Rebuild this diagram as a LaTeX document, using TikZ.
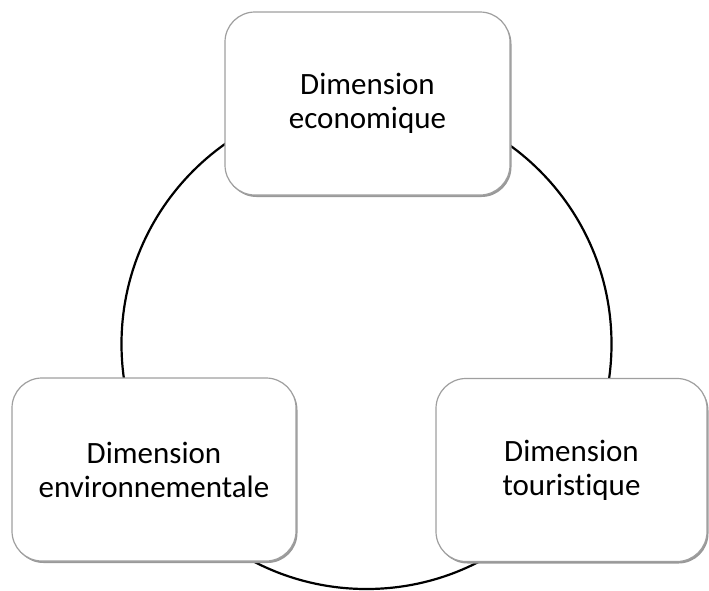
\documentclass[tikz,border=0pt]{standalone}
\usepackage{fontspec}
\setmainfont{Carlito}[Ligatures=CommonOff]
\usetikzlibrary{shadows}
\begin{document}
\begin{tikzpicture}[x=1pt,y=-1pt,
  dim/.style={rectangle,rounded corners=30pt,draw=gray!75,line width=1.2pt,fill=white,
    minimum width=285pt,minimum height=183pt,align=center,
    font=\fontsize{31}{34}\selectfont,
    drop shadow={shadow xshift=1.5pt,shadow yshift=-2pt,fill=gray!80,opacity=1}}]
  \useasboundingbox (0,0) rectangle (709,590);
  \coordinate (c) at (366.5,344);
  \draw[line width=2.2pt] (c) circle (245pt);
  \node[dim] (eco) at (367.5,103.5) {Dimension\\economique};
  \node[dim,minimum width=284pt] (env) at (154,469.5) {Dimension\\environnementale};
  \node[dim,minimum width=271pt] (tour) at (571.5,470) {Dimension\\touristique};
\end{tikzpicture}
\end{document}
